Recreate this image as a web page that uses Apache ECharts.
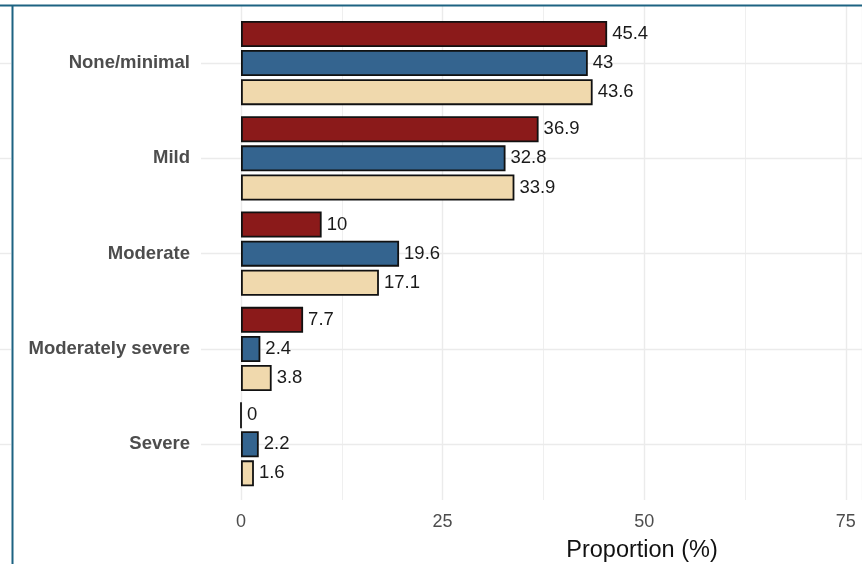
<!DOCTYPE html>
<html>
<head>
<meta charset="utf-8">
<script src="https://cdn.jsdelivr.net/npm/echarts@6/dist/echarts.min.js"></script>
<style>
html,body{margin:0;padding:0;background:#fff;}
#chart{width:862px;height:564px;}
</style>
</head>
<body>
<div id="chart"></div>
<script>
const categories = ["None/minimal", "Mild", "Moderate", "Moderately severe", "Severe"];
const seriesRed = [45.4, 36.9, 10, 7.7, 0];
const seriesBlue = [43, 32.8, 19.6, 2.4, 2.2];
const seriesBeige = [43.6, 33.9, 17.1, 3.8, 1.6];
const xTicks = [0, 25, 50, 75];

const colors = ["#8B1A1A", "#34648F", "#F0D9AD"];
const xMax = 77;
const font = "Liberation Sans, Arial, sans-serif";

const chart = echarts.init(document.getElementById("chart"), null, {renderer: "canvas"});

function barSeries(data, color) {
  return {
    type: "bar",
    xAxisIndex: 0,
    yAxisIndex: 0,
    data: data,
    barWidth: 26,
    barGap: "12%",
    itemStyle: {color: color, borderColor: "#111", borderWidth: 1.8},
    label: {
      show: true,
      position: "right",
      distance: 5,
      fontFamily: font,
      fontSize: 18.5,
      color: "#1a1a1a",
      formatter: p => String(p.value)
    },
    z: 5
  };
}

const option = {
  animation: false,
  backgroundColor: "#fff",
  grid: [
    {left: 241, right: 0, top: 15.4, height: 476.5, containLabel: false, outerBoundsMode: "none"},
    {left: 201, right: 0, top: 63, height: 381, containLabel: false, outerBoundsMode: "none"},
    {left: 241, right: 0, top: 6, height: 494, containLabel: false, outerBoundsMode: "none"},
    {left: 0, width: 11, top: 63, height: 381, containLabel: false, outerBoundsMode: "none"}
  ],
  xAxis: [
    {
      gridIndex: 0, type: "value", min: 0, max: xMax, interval: 25,
      axisLine: {show: false}, axisTick: {show: false}, splitLine: {show: false},
      axisLabel: {
        show: true, margin: 21, fontFamily: font, fontSize: 18, color: "#4d4d4d",
        showMaxLabel: false,
        formatter: v => (xTicks.indexOf(v) >= 0 ? String(v) : "")
      },
      name: "Proportion (%)", nameLocation: "middle", nameGap: 47,
      nameTextStyle: {fontFamily: font, fontSize: 23.5, color: "#111", padding: [0, 0, 0, 181]}
    },
    {gridIndex: 1, type: "value", show: false},
    {
      gridIndex: 2, type: "value", min: 0, max: xMax, interval: 25,
      axisLine: {show: false}, axisTick: {show: false}, axisLabel: {show: false},
      splitLine: {show: true, lineStyle: {color: "#ebebeb", width: 1.4}},
      minorTick: {show: false, splitNumber: 2},
      minorSplitLine: {show: true, lineStyle: {color: "#ebebeb", width: 0.8}}
    },
    {gridIndex: 3, type: "value", show: false}
  ],
  yAxis: [
    {
      gridIndex: 0, type: "category", data: categories, inverse: true,
      axisLine: {show: false}, axisTick: {show: false}, splitLine: {show: false},
      axisLabel: {margin: 51, padding: [7, 0, 0, 0], fontFamily: font, fontSize: 18.5, fontWeight: "bold", color: "#4d4d4d"}
    },
    {
      gridIndex: 1, type: "category", data: categories, inverse: true, boundaryGap: false,
      axisLine: {show: false}, axisTick: {show: false}, axisLabel: {show: false},
      splitLine: {show: true, lineStyle: {color: "#ebebeb", width: 1.4}}
    },
    {gridIndex: 2, type: "category", data: categories, show: false},
    {
      gridIndex: 3, type: "category", data: categories, inverse: true, boundaryGap: false,
      axisLine: {show: false}, axisTick: {show: false}, axisLabel: {show: false},
      splitLine: {show: true, lineStyle: {color: "#ebebeb", width: 1.4}}
    }
  ],
  series: [
    barSeries(seriesRed, colors[0]),
    barSeries(seriesBlue, colors[1]),
    barSeries(seriesBeige, colors[2])
  ],
  graphic: [
    {type: "line", shape: {x1: 0, y1: 5.5, x2: 862, y2: 5.5}, style: {stroke: "#1d6382", lineWidth: 2}, z: 100},
    {type: "line", shape: {x1: 12.5, y1: 5, x2: 12.5, y2: 564}, style: {stroke: "#1d6382", lineWidth: 2}, z: 100}
  ]
};
chart.setOption(option);
</script>
</body>
</html>
